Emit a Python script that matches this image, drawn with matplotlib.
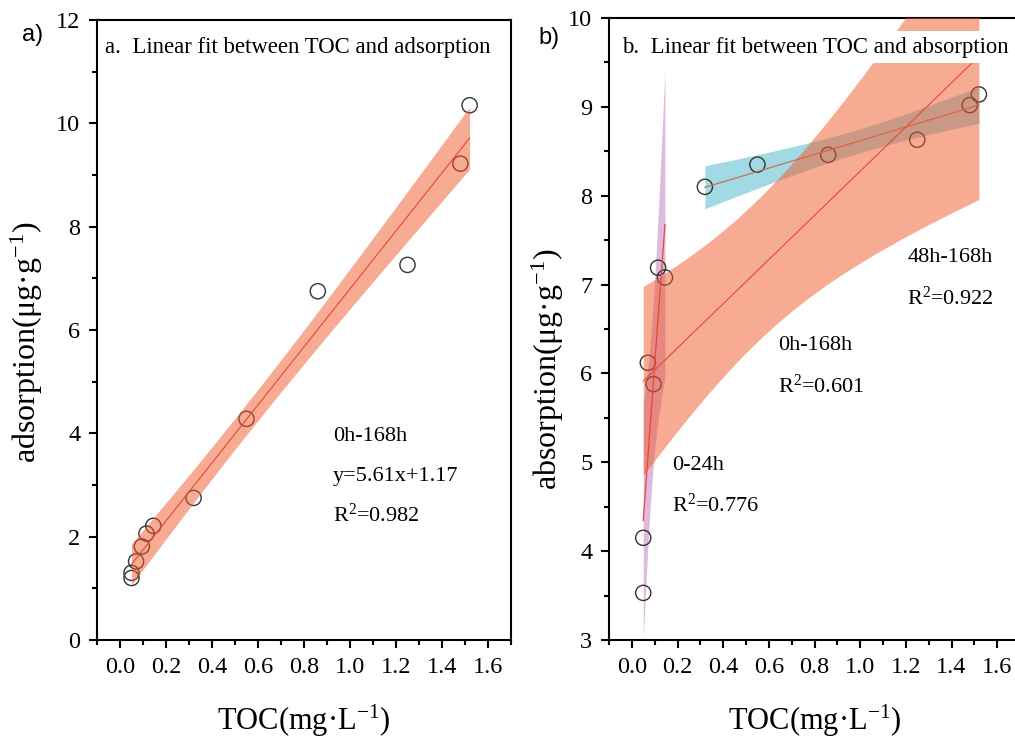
import numpy as np
import matplotlib
matplotlib.use("Agg")
import matplotlib.pyplot as plt
from matplotlib.ticker import MultipleLocator

plt.rcParams['font.family'] = ['Liberation Serif', 'DejaVu Serif']
plt.rcParams['mathtext.fontset'] = 'custom'
plt.rcParams['mathtext.rm'] = 'Liberation Serif'
plt.rcParams['mathtext.it'] = 'Liberation Serif:italic'

# ---------------- data ----------------
toc = [0.05, 0.05, 0.07, 0.095, 0.115, 0.145, 0.32, 0.55, 0.86, 1.25, 1.48, 1.52]
adsorption = [1.20, 1.30, 1.52, 1.81, 2.06, 2.21, 2.75, 4.28, 6.75, 7.26, 9.22, 10.35]
absorption = [3.53, 4.15, 6.12, 5.88, 7.19, 7.08, 8.10, 8.35, 8.46, 8.63, 9.02, 9.14]
idx_0_24 = [0, 1, 2, 3, 4, 5]
idx_48_168 = [6, 7, 8, 9, 10, 11]
t95 = {4: 2.776, 10: 2.228}   # two-sided 95% Student t by degrees of freedom

xticks = [0.0, 0.2, 0.4, 0.6, 0.8, 1.0, 1.2, 1.4, 1.6]

SALMON = '#F15929'
PURPLE = '#DEBBDC'
BLUE = '#A1DAE4'
RED = '#E8463A'
EDGE = '#333333'


def fit_band(x, y):
    x = np.asarray(x, float)
    y = np.asarray(y, float)
    n = len(x)
    b, a = np.polyfit(x, y, 1)
    xs = np.linspace(x.min(), x.max(), 200)
    yh = a + b * xs
    resid = y - (a + b * x)
    s = np.sqrt(np.sum(resid ** 2) / (n - 2))
    sxx = np.sum((x - x.mean()) ** 2)
    se = s * np.sqrt(1.0 / n + (xs - x.mean()) ** 2 / sxx)
    t = t95[n - 2]
    return xs, yh, yh - t * se, yh + t * se


fig = plt.figure(figsize=(10.15, 7.4), dpi=100)
W, H = 1015.0, 740.0
axa = fig.add_axes([97 / W, 1 - 640 / H, 414 / W, 620 / H])
axb = fig.add_axes([609 / W, 1 - 640 / H, 411 / W, 622 / H])


def style(ax):
    for sp in ax.spines.values():
        sp.set_linewidth(1.5)
    ax.tick_params(which='major', direction='out', length=6, width=1.5,
                   labelsize=17.5, pad=6)
    ax.tick_params(which='minor', direction='out', length=3.5, width=1.5)
    ax.set_xlim(-0.1, 1.7)
    ax.set_xticks(xticks)
    ax.set_xticklabels([f'{v:.1f}' for v in xticks])
    ax.xaxis.set_minor_locator(MultipleLocator(0.1))
    ax.set_xlabel('TOC(mg·L$^{\\mathregular{-1}}$)', fontsize=22, labelpad=18)


# ---------------- panel a ----------------
style(axa)
axa.set_ylim(0, 12)
axa.yaxis.set_major_locator(MultipleLocator(2))
axa.yaxis.set_minor_locator(MultipleLocator(1))
axa.scatter(toc, adsorption, s=120, facecolors='none', edgecolors=EDGE,
            linewidths=1.0, zorder=2)
xs, yh, lo, hi = fit_band(toc, adsorption)
axa.fill_between(xs, lo, hi, color=SALMON, alpha=0.5, lw=0, zorder=3)
axa.plot(xs, yh, color=RED, lw=0.8, zorder=4)
axa.set_ylabel('adsorption(μg·g$^{\\mathregular{-1}}$)', fontsize=23)
axa.yaxis.set_label_coords(-0.125, 0.48)
axa.text(0.019, 0.956, 'a.  Linear fit between TOC and adsorption',
         transform=axa.transAxes, fontsize=16.4, va='center', ha='left', zorder=6)
axa.text(0.925, 3.93, '0h-168h', fontsize=16, va='center', ha='left')
axa.text(0.925, 3.17, 'y=5.61x+1.17', fontsize=16, va='center', ha='left')
axa.text(0.925, 2.42, 'R$^{\\mathregular{2}}$=0.982', fontsize=16, va='center', ha='left')

# ---------------- panel b ----------------
style(axb)
axb.spines['right'].set_visible(False)
axb.set_ylim(3, 10)
axb.yaxis.set_major_locator(MultipleLocator(1))
axb.yaxis.set_minor_locator(MultipleLocator(0.5))

tx = np.asarray(toc)
ab = np.asarray(absorption)
# 48h-168h
xs2, yh2, lo2, hi2 = fit_band(tx[idx_48_168], ab[idx_48_168])
axb.fill_between(xs2, lo2, hi2, color=BLUE, lw=0, zorder=1)
axb.plot(xs2, yh2, color='#C8705A', lw=0.9, zorder=2.5)
# 0-24h
xs1, yh1, lo1, hi1 = fit_band(tx[idx_0_24], ab[idx_0_24])
axb.fill_between(xs1, lo1, hi1, color=PURPLE, lw=0, zorder=1)
axb.plot(xs1, yh1, color=RED, lw=0.9, zorder=4)
# markers
axb.scatter(toc, absorption, s=120, facecolors='none', edgecolors=EDGE,
            linewidths=1.0, zorder=2)
# 0h-168h
xs3, yh3, lo3, hi3 = fit_band(toc, absorption)
axb.fill_between(xs3, lo3, hi3, color=SALMON, alpha=0.5, lw=0, zorder=3)
axb.plot(xs3, yh3, color=RED, lw=0.8, zorder=4)

axb.set_ylabel('absorption(μg·g$^{\\mathregular{-1}}$)', fontsize=23)
axb.yaxis.set_label_coords(-0.105, 0.435)
axb.text(0.032, 0.953, 'b.  Linear fit between TOC and absorption',
         transform=axb.transAxes, fontsize=16.4, va='center', ha='left', zorder=6,
         bbox=dict(facecolor='white', edgecolor='none', pad=4))
axb.text(1.206, 7.31, '48h-168h', fontsize=16, va='center', ha='left', zorder=6)
axb.text(1.206, 6.85, 'R$^{\\mathregular{2}}$=0.922', fontsize=16, va='center', ha='left', zorder=6)
axb.text(0.640, 6.31, '0h-168h', fontsize=16, va='center', ha='left', zorder=6)
axb.text(0.640, 5.86, 'R$^{\\mathregular{2}}$=0.601', fontsize=16, va='center', ha='left', zorder=6)
axb.text(0.175, 4.96, '0-24h', fontsize=16, va='center', ha='left', zorder=6)
axb.text(0.175, 4.52, 'R$^{\\mathregular{2}}$=0.776', fontsize=16, va='center', ha='left', zorder=6)

fig.text(22 / W, 1 - 35 / H, 'a)', family='Liberation Sans', fontsize=17, va='center', ha='left')
fig.text(538 / W, 1 - 38 / H, 'b)', family='Liberation Sans', fontsize=17, va='center', ha='left')

fig.savefig('out.png', dpi=100)
